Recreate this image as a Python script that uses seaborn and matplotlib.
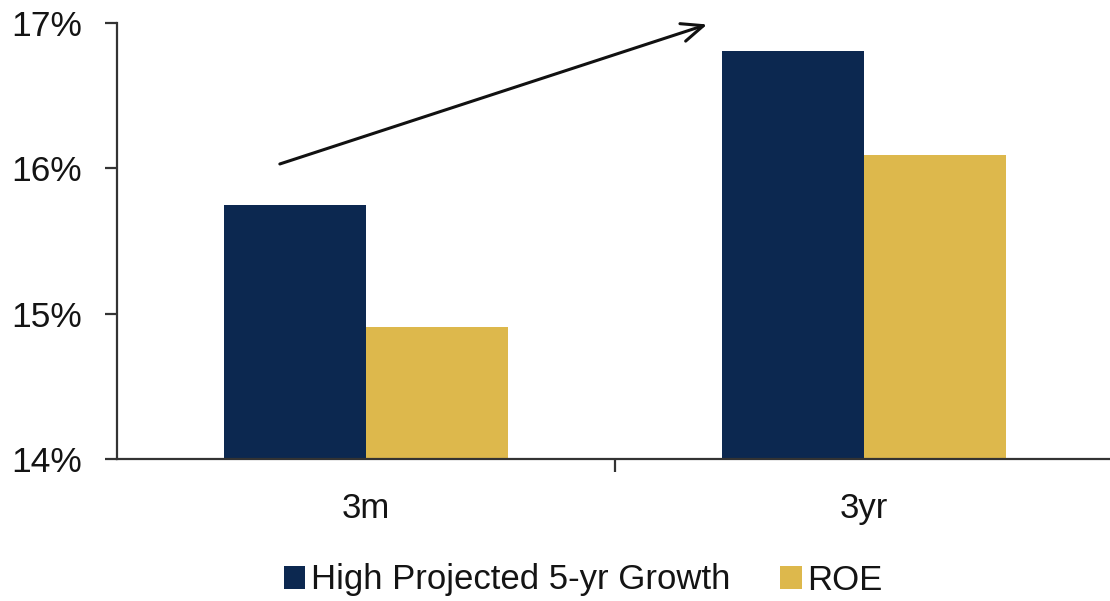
import matplotlib
matplotlib.use("Agg")
import matplotlib.pyplot as plt
import seaborn as sns
import pandas as pd
from matplotlib.ticker import FuncFormatter, FixedLocator

categories = ["3m", "3yr"]
series_names = ["High Projected 5-yr Growth", "ROE"]
growth_values = [15.75, 16.81]
roe_values = [14.91, 16.09]
y_ticks = [14, 15, 16, 17]
colors = ["#0C2850", "#DDB84C"]

df = pd.DataFrame({
    "period": categories * 2,
    "series": [series_names[0]] * len(categories) + [series_names[1]] * len(categories),
    "value": growth_values + roe_values,
})

sns.set_theme(style="white")
plt.rcParams["font.family"] = ["Liberation Sans", "DejaVu Sans"]

fig = plt.figure(figsize=(11.1, 6.01), dpi=100)
ax = fig.add_axes([117 / 1110, 1 - 459 / 601, 1 - 117 / 1110, (459 - 23) / 601])

sns.barplot(data=df, x="period", y="value", hue="series", palette=colors,
            width=0.57, saturation=1, ax=ax, legend=True, edgecolor="none")

ax.set_ylim(14, 17)
ax.set_xlim(-0.5, 1.494)
ax.yaxis.set_major_locator(FixedLocator(y_ticks))
ax.yaxis.set_major_formatter(FuncFormatter(lambda v, p: f"{v:.0f}%"))
ax.set_xlabel("")
ax.set_ylabel("")

for s in ["top", "right"]:
    ax.spines[s].set_visible(False)
for s in ["left", "bottom"]:
    ax.spines[s].set_color("#333333")
    ax.spines[s].set_linewidth(1.6)

ax.tick_params(axis="y", which="major", direction="out", length=9, width=1.6,
               color="#333333", pad=16, labelsize=25.5, labelcolor="#141414", left=True)
ax.tick_params(axis="x", which="major", length=0, pad=24, labelsize=25, labelcolor="#141414")
ax.set_xticks([0.5], minor=True)
ax.tick_params(axis="x", which="minor", direction="out", length=9, width=1.6,
               color="#333333", bottom=True)

# trend arrow
arrow_start = (-0.173, 16.03)
arrow_end = (0.685, 16.99)
ax.annotate("", xy=arrow_end, xytext=arrow_start, xycoords="data",
            arrowprops=dict(arrowstyle="->,head_length=1.3,head_width=0.55",
                            color="#111111", lw=2.2, shrinkA=0, shrinkB=0),
            annotation_clip=False)

handles, labels = ax.get_legend_handles_labels()
ax.get_legend().remove()
fig.legend(handles, labels, loc="center", bbox_to_anchor=(583 / 1110, 1 - 580 / 601),
           ncol=2, frameon=False, fontsize=25, handlelength=0.62, handleheight=0.62,
           handletextpad=0.15, columnspacing=1.45, labelcolor="#141414")

fig.savefig("out.png", dpi=100)
